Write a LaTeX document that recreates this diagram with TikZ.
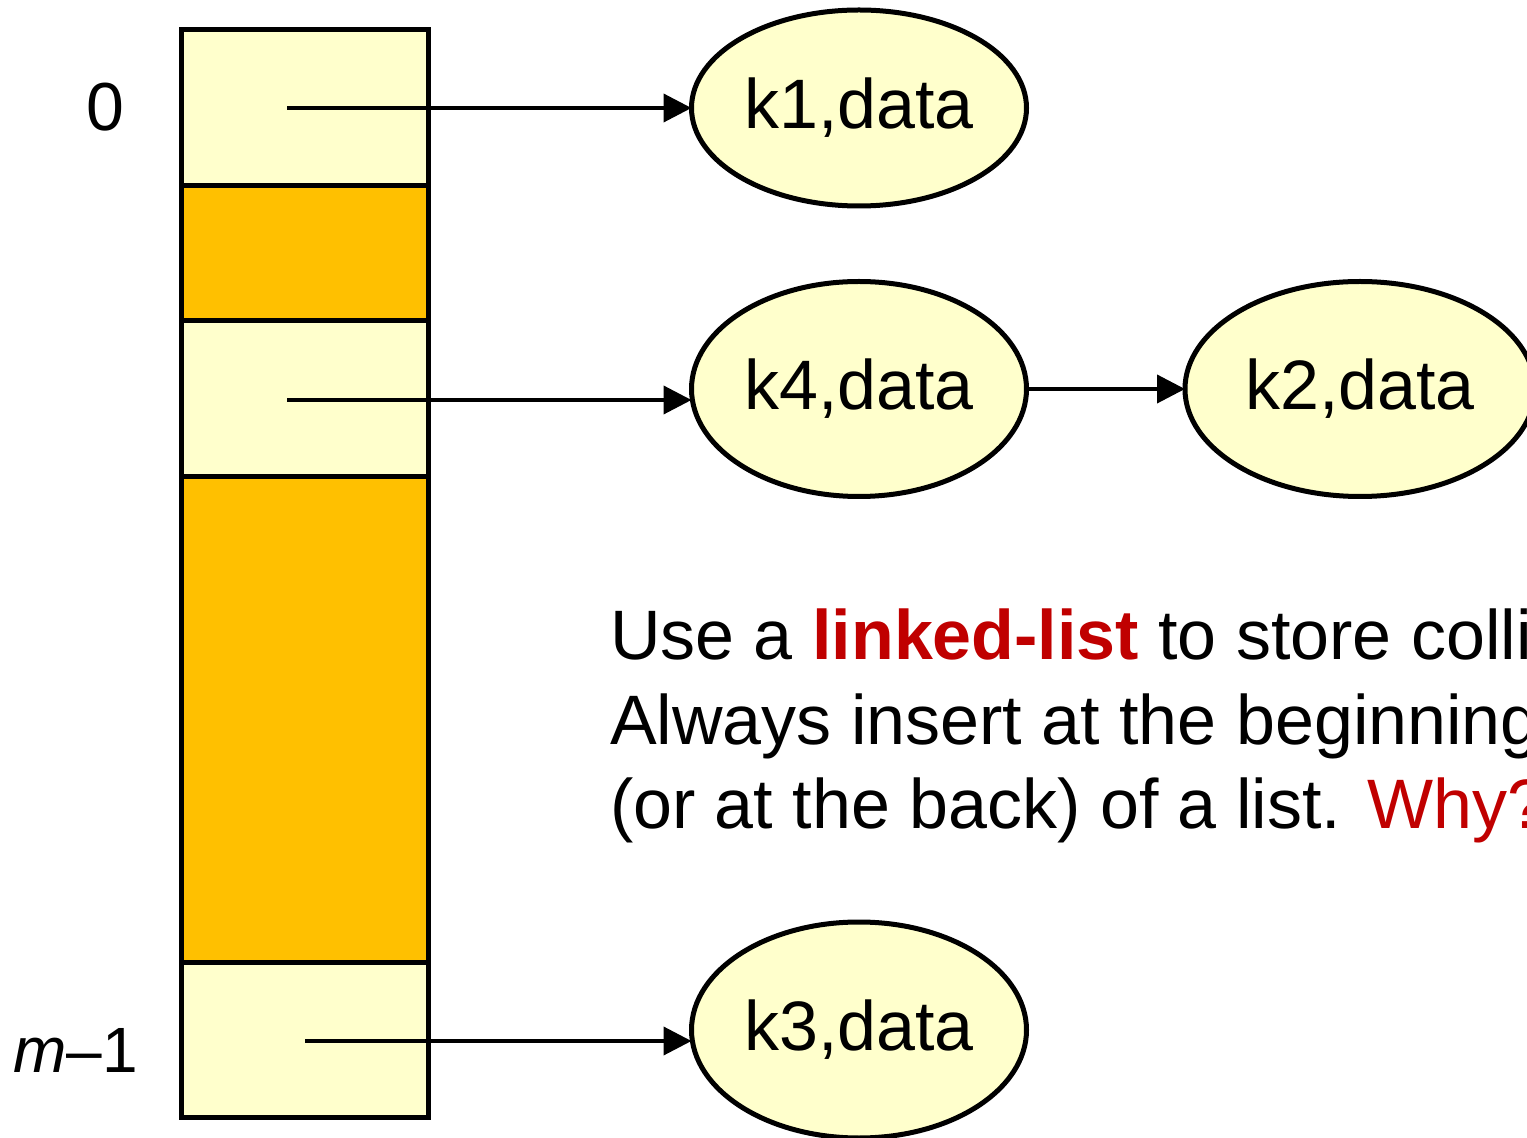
\documentclass[tikz,border=0pt]{standalone}
\usepackage{fontspec}
\setmainfont{Liberation Sans}
\definecolor{cFFFFCC}{RGB}{255,255,204}
\definecolor{cFFC000}{RGB}{255,192,0}
\definecolor{cC00000}{RGB}{192,0,0}
\usetikzlibrary{shapes.geometric,arrows.meta}

\begin{document}
\begin{tikzpicture}[x=0.5pt,y=-0.5pt,inner sep=0pt,outer sep=0pt,
    slot/.style={draw=black,line width=2.5pt,minimum width=123.5pt},
    entry/.style={ellipse,draw=black,line width=2.5pt,fill=cFFFFCC,
      minimum width=167.5pt,font=\fontsize{35}{40}\selectfont},
    link/.style={draw=black,line width=2pt,-{Triangle[length=14pt,width=14pt]}},
    say/.style={anchor=base west,font=\fontsize{35}{42}\selectfont}]
  \clip (0,0) rectangle (1527,1138);
  % table slots
  \node[slot,fill=cFFFFCC,minimum height=78pt] (c0) at (304.5,108) {};
  \node[slot,fill=cFFC000,minimum height=67.5pt] (c1) at (304.5,253.5) {};
  \node[slot,fill=cFFFFCC,minimum height=78pt] (c2) at (304.5,399) {};
  \node[slot,fill=cFFC000,minimum height=242.5pt] (c3) at (304.5,719.5) {};
  \node[slot,fill=cFFFFCC,minimum height=77.5pt] (c4) at (304.5,1039.5) {};
  \node[font=\fontsize{34}{40}\selectfont] (i0) at (105,107) {0};
  \node[anchor=east,font=\fontsize{32}{40}\selectfont] (im) at (138,1050)
    {\textit{m}–1};
  \coordinate (p0) at (287,108);
  \coordinate (p2) at (287,400);
  \coordinate (p4) at (305,1041);
  % chained entries
  \node[entry,minimum height=98pt] (k1) at (859,108) {k1,data};
  \node[entry,minimum height=107.5pt] (k4) at (859,389) {k4,data};
  \node[entry,minimum width=175pt,minimum height=107.5pt] (k2) at (1360,389)
    {k2,data};
  \node[entry,minimum height=108pt] (k3) at (859,1030) {k3,data};
  \draw[link] (p0) -- (k1.west);
  \draw[link] (p2) -- (p2 -| k4.west);
  \draw[link] (k4.east) -- (k2.west);
  \draw[link] (p4) -- (p4 -| k3.west);
  % remark
  \node[say] (l1) at (610,660)
    {Use a \textcolor{cC00000}{\textbf{linked-list}} to store collisions.};
  \node[say] (l2) at (610,745) {Always insert at the beginning};
  \node[say] (l3) at (610,828)
    {(or at the back) of a list. \textcolor{cC00000}{Why?}};
\end{tikzpicture}
\end{document}
